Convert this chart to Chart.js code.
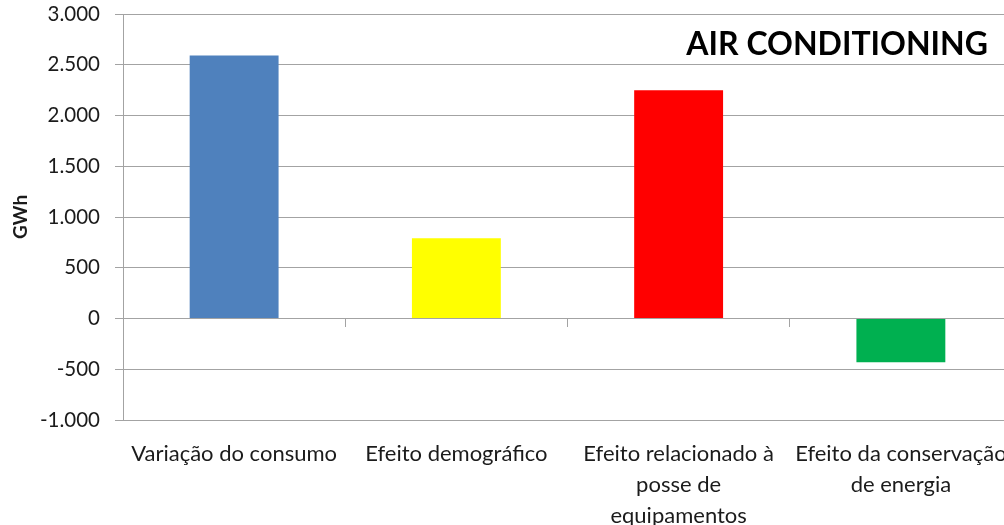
<!DOCTYPE html>
<html>
<head>
<meta charset="utf-8">
<script src="https://cdn.jsdelivr.net/npm/chart.js@4.4.1/dist/chart.umd.min.js"></script>
<style>
  html, body { margin: 0; padding: 0; background: #ffffff; overflow: hidden; }
  #wrap { position: relative; width: 1012px; height: 525px; }
</style>
</head>
<body>
<div id="wrap"><canvas id="chart"></canvas></div>
<script>
// Decomposition of the change in air-conditioning electricity use (GWh)
const categories = [
  ["Variação do consumo"],
  ["Efeito demográfico"],
  ["Efeito relacionado à", "posse de", "equipamentos"],
  ["Efeito da conservação", "de energia"]
];
const gwhValues = [2590, 790, 2250, -430];
const barColors = ["#4F81BD", "#FFFF00", "#FF0000", "#00B050"];
const yMin = -1000;
const yMax = 3000;
const yStep = 500;
const chartTitle = "AIR CONDITIONING";
const axisTitle = "GWh";

const gridGray = "#a3a3a3";
const textColor = "#1b1b1b";

// Format numbers with "." as the thousands separator (e.g. 2.500, -1.000)
function formatThousands(v) {
  const sign = v < 0 ? "-" : "";
  const s = String(Math.abs(Math.round(v)));
  return sign + s.replace(/\B(?=(\d{3})+(?!\d))/g, ".");
}

// Heading drawn inside the top-right of the plot area
const cornerTitle = {
  id: "cornerTitle",
  afterDraw(chart) {
    const { ctx, chartArea } = chart;
    ctx.save();
    ctx.font = "bold 32px Lato";
    ctx.fillStyle = "#000000";
    ctx.textAlign = "right";
    ctx.textBaseline = "alphabetic";
    ctx.fillText(chartTitle, chartArea.right - 24, chartArea.top + 41);
    ctx.restore();
  }
};

new Chart(document.getElementById("chart"), {
  type: "bar",
  data: {
    labels: categories,
    datasets: [{
      data: gwhValues,
      backgroundColor: barColors,
      borderWidth: 0,
      categoryPercentage: 1.0,
      barPercentage: 0.4
    }]
  },
  options: {
    responsive: true,
    maintainAspectRatio: false,
    animation: false,
    layout: { padding: 0 },
    plugins: {
      legend: { display: false },
      tooltip: { enabled: false }
    },
    scales: {
      x: {
        position: "bottom",
        // hidden grid; tickLength only sets the gap above the labels
        grid: { display: false, drawTicks: true, tickLength: 19 },
        border: { display: false },
        ticks: {
          color: textColor,
          font: { family: "Lato", size: 22, lineHeight: 1.4 },
          padding: 0,
          maxRotation: 0,
          minRotation: 0,
          autoSkip: false
        },
        afterFit(scale) { scale.height = 105; }
      },
      // Category divider ticks hanging below the zero line
      x2: {
        type: "category",
        position: { y: 0 },
        grid: {
          display: true,
          offset: true,
          drawOnChartArea: false,
          drawTicks: true,
          tickLength: 8,
          color: gridGray,
          lineWidth: 1
        },
        border: { display: false },
        ticks: { display: false }
      },
      y: {
        min: yMin,
        max: yMax,
        grid: {
          color: gridGray,
          lineWidth: 1,
          drawTicks: true,
          tickLength: 8
        },
        border: { display: true, color: gridGray, width: 1 },
        ticks: {
          stepSize: yStep,
          color: textColor,
          font: { family: "Lato", size: 20.5 },
          padding: 15,
          callback: (v) => formatThousands(v)
        },
        title: {
          display: true,
          text: axisTitle,
          color: textColor,
          font: { family: "Lato", size: 19, weight: "bold" },
          padding: { top: 9, bottom: 0 }
        },
        afterFit(scale) {
          scale.width = 123;
          scale.paddingTop = 14;
        }
      }
    }
  },
  plugins: [cornerTitle]
});
</script>
</body>
</html>
